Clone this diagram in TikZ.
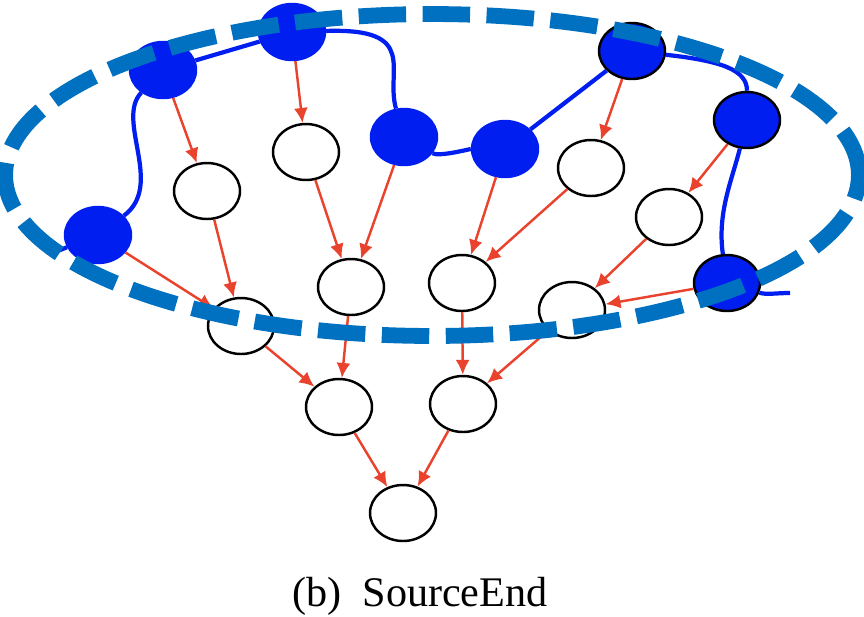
\documentclass[tikz,border=0pt]{standalone}
\usepackage{fontspec}
\setmainfont{Liberation Serif}
\usetikzlibrary{shapes.geometric,
                arrows.meta}
\definecolor{flowblue}{RGB}{0,30,240}
\definecolor{ringblue}{RGB}{0,112,192}
\definecolor{flowred}{RGB}{234,67,45}
\tikzset{vertex/.style =
   {ellipse,
    draw,
    line width=1.4pt,
    fill=white,
    minimum width=1.32cm,
    minimum height=1.12cm,
    inner sep=0pt}}
\tikzset{source/.style =
   {vertex,
    draw=flowblue,
    fill=flowblue}}
\tikzset{source-outlined/.style =
   {vertex,
    fill=flowblue}}
\tikzset{arrow/.style = {draw=flowred, line width=1.4pt, -{Latex[length=8.5pt,width=8pt]}}}
\tikzset{chain/.style = {draw=flowblue, line width=2.4pt}}
\tikzset{ring/.style =
   {draw=ringblue,
    line width=9pt,
    dash pattern=on 27pt off 9.4pt}}

\begin{document}
\begin{tikzpicture}[x=0.02cm, y=-0.02cm]
    \useasboundingbox (0,0) rectangle (864,616);

    \node [source] (s1) at (163,70) {};
    \node [source] (s2) at (292,32) {};
    \node [source] (s3) at (404,137) {};
    \node [source] (s4) at (505,149) {};
    \node [source-outlined] (s5) at (632,51) {};
    \node [source-outlined] (s6) at (747,120) {};
    \node [source-outlined] (s7) at (727,283) {};
    \node [source] (s8) at (98,235) {};

    \node [vertex] (w1) at (207,191) {};
    \node [vertex] (w2) at (306,152) {};
    \node [vertex] (w3) at (351,287) {};
    \node [vertex] (w4) at (462,283) {};
    \node [vertex] (w5) at (591,168) {};
    \node [vertex] (w6) at (669,217) {};
    \node [vertex] (w7) at (572,310) {};
    \node [vertex] (w8) at (241,326) {};
    \node [vertex] (w9) at (339,407) {};
    \node [vertex] (w10) at (463,404) {};
    \node [vertex] (w11) at (403,513) {};

    \coordinate (tailL) at (50,254);
    \coordinate (tailR) at (790,293);

    \draw [arrow] (s1) -- (w1);
    \draw [arrow] (s2) -- (w2);
    \draw [arrow] (s8) -- (w8);
    \draw [arrow] (w1) -- (w8);
    \draw [arrow] (w2) -- (w3);
    \draw [arrow] (s3) -- (w3);
    \draw [arrow] (s4) -- (w4);
    \draw [arrow] (w5) -- (w4);
    \draw [arrow] (s5) -- (w5);
    \draw [arrow] (s6) -- (w6);
    \draw [arrow] (w6) -- (w7);
    \draw [arrow] (s7) -- (w7);
    \draw [arrow] (w8) -- (w9);
    \draw [arrow] (w3) -- (w9);
    \draw [arrow] (w4) -- (w10);
    \draw [arrow] (w7) -- (w10);
    \draw [arrow] (w9) -- (w11);
    \draw [arrow] (w10) -- (w11);

    \draw [chain] (tailL) -- (s8);
    \draw [chain] (s8) .. controls +(67,-50) and +(-48,50) .. (s1);
    \draw [chain] (s1) -- (s2);
    \draw [chain] (s2) .. controls +(128,-4) and +(-19,-67) .. (s3);
    \draw [chain] (s3) .. controls +(35,20) and +(-35,0) .. (s4);
    \draw [chain] (s4) -- (s5);
    \draw [chain] (s5) .. controls +(90,10) and +(0,-50) .. (s6);
    \draw [chain] (s6) .. controls +(-15,60) and +(-10,-70) .. (s7);
    \draw [chain] (s7) .. controls +(40,12) and +(-15,0) .. (tailR);

    \draw [ring] (432,175) ellipse [x radius=8.54cm, y radius=3.22cm];

    \node [anchor=base, font=\fontsize{24}{28}\selectfont] (caption) at (420,606) {(b)~~SourceEnd};
\end{tikzpicture}
\end{document}
